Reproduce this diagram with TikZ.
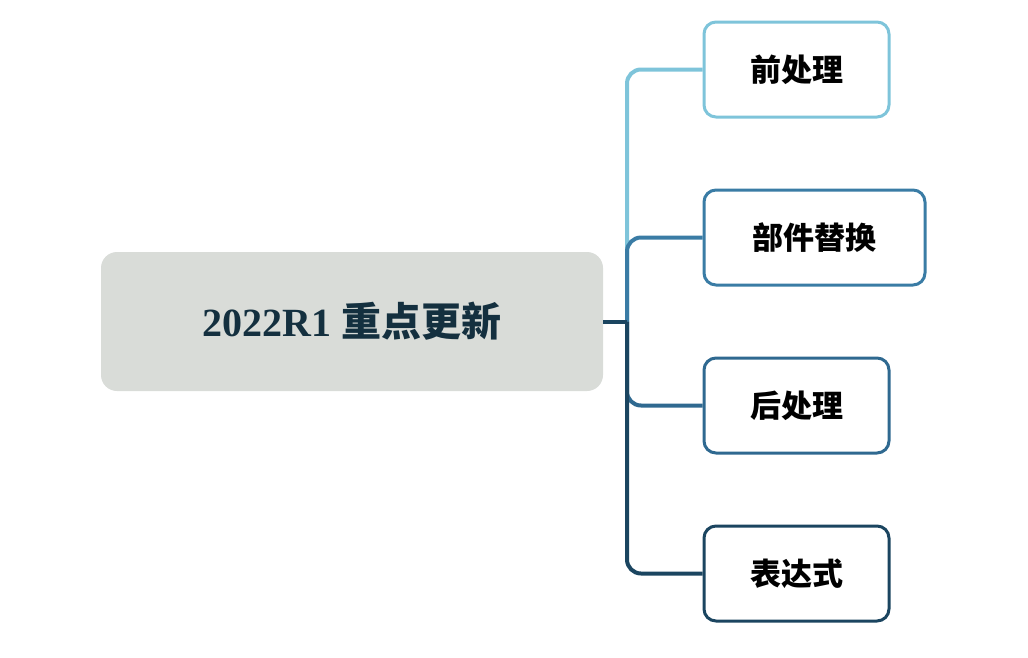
\documentclass[tikz,border=0pt]{standalone}
\usepackage{fontspec}
\newfontfamily\cjk{Noto Sans CJK SC}
\setmainfont{Liberation Serif}
\begin{document}
\begin{tikzpicture}[x=1pt,y=-1pt]
\definecolor{c1}{HTML}{7EC4DA}
\definecolor{c2}{HTML}{3A7CA5}
\definecolor{c3}{HTML}{2F6990}
\definecolor{c4}{HTML}{1B4560}
\definecolor{rootfill}{HTML}{D9DCD8}
\definecolor{roottext}{HTML}{14303F}
\useasboundingbox (0,0) rectangle (1028,657);
\tikzset{
 child/.style={draw=#1,line width=3pt,rounded corners=12pt,fill=white,minimum height=95pt,inner xsep=0pt,font=\cjk\bfseries\fontsize{31}{36}\selectfont},
 branch/.style={draw=#1,line width=4pt,rounded corners=14pt}
}
\node[fill=rootfill,rounded corners=16pt,minimum width=502pt,minimum height=139pt,text=roottext] (root) at (352,321.5)
 {\fontsize{40}{46}\selectfont\bfseries 2022R1 {\cjk 重点更新}};
\coordinate (j) at (627,321.5);
\node[child=c1,minimum width=185pt] (a) at (796.5,69.5) {前处理};
\node[child=c2,minimum width=221pt] (b) at (814.5,237.5) {部件替换};
\node[child=c3,minimum width=185pt] (c) at (796.5,405.5) {后处理};
\node[child=c4,minimum width=185pt] (d) at (796.5,573.5) {表达式};
\draw[branch=c1] (j) |- (a.west);
\draw[branch=c2] (j) |- (b.west);
\draw[branch=c3] (j) |- (c.west);
\draw[branch=c4] (j) |- (d.west);
\draw[draw=c4,line width=4pt] (root.east) -- (j);
\end{tikzpicture}
\end{document}
